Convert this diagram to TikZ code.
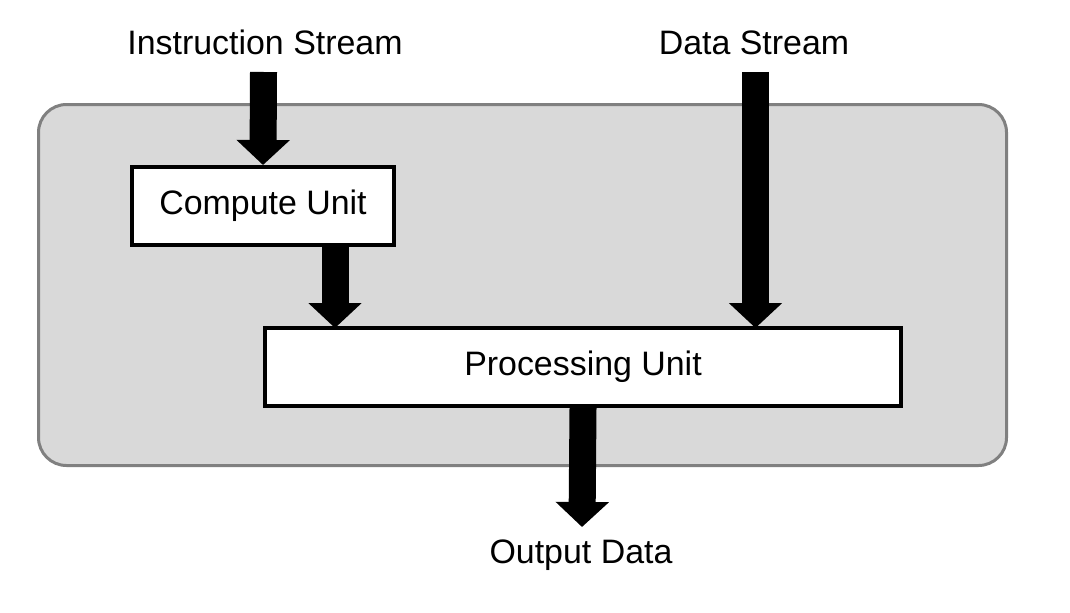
\documentclass[tikz,border=0pt]{standalone}
\usepackage{fontspec}
\setmainfont{Liberation Sans}
\usetikzlibrary{arrows.meta}

\begin{document}
\begin{tikzpicture}[every node/.style={font=\fontsize{19.3}{23}\selectfont},
    panel/.style={draw=black!50, fill=black!15, line width=0.06cm, rounded corners=0.56cm, minimum width=19.36cm, minimum height=7.22cm},
    unitbox/.style={draw, fill=white, line width=0.08cm, minimum height=1.56cm, inner sep=0pt},
    label/.style={anchor=base, inner sep=0pt},
    blockarrow/.style={line width=0.54cm, -{Triangle[width=1.04cm, length=0.5cm]}}]
  \useasboundingbox (0,0) rectangle (21.4,-12.24);
  \node [panel] (panel) at (10.45cm, -5.7cm) {};
  \node [label] (instr) at (5.30cm, -1.08cm) {Instruction Stream};
  \node [label] (data) at (15.08cm, -1.08cm) {Data Stream};
  \node [label] (out) at (11.62cm, -11.26cm) {Output Data};
  \node [unitbox, minimum width=5.24cm] (cu) at (5.26cm, -4.12cm) {Compute Unit};
  \node [unitbox, minimum width=12.72cm] (pu) at (11.66cm, -7.34cm) {Processing Unit};
  \coordinate (instrtop) at (5.27cm, -1.44cm);
  \coordinate (datatop) at (15.11cm, -1.44cm);
  \coordinate (cuout) at (6.70cm, -4.9cm);
  \coordinate (puin) at (6.70cm, -6.56cm);
  \coordinate (puin2) at (15.11cm, -6.56cm);
  \coordinate (outtip) at (11.64cm, -10.54cm);
  \draw [blockarrow] (instrtop) -- (cu.north);
  \draw [blockarrow] (datatop) -- (puin2);
  \draw [blockarrow] (cuout) -- (puin);
  \draw [blockarrow] (pu.south) -- (outtip);
\end{tikzpicture}
\end{document}
